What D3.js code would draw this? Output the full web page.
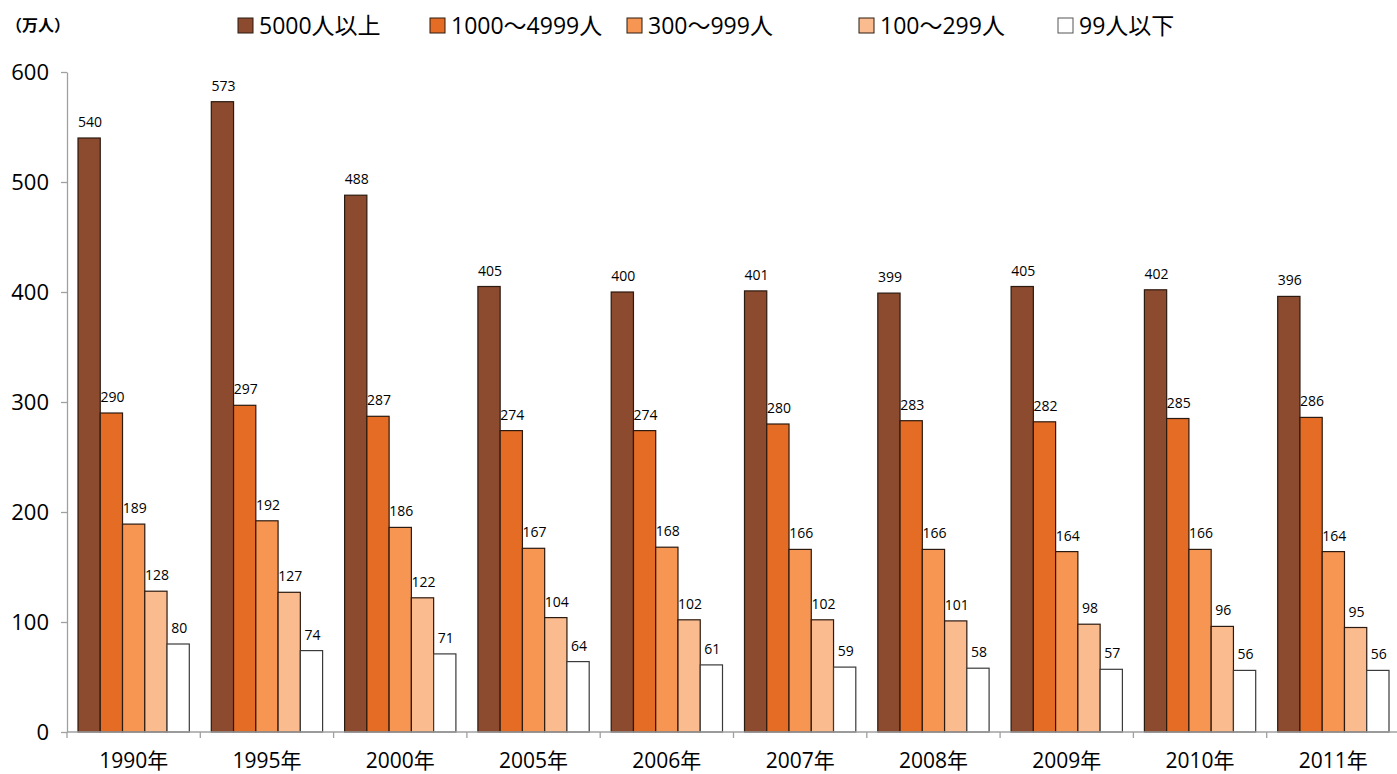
<!DOCTYPE html>
<html>
<head>
<meta charset="utf-8">
<script src="https://cdn.jsdelivr.net/npm/d3@7"></script>
<style>
  html, body { margin: 0; padding: 0; background: #fff; }
  svg { display: block; font-family: "Open Sans", "Noto Sans CJK JP", sans-serif; }
</style>
</head>
<body>
<svg id="chart" width="1397" height="774"></svg>
<script>
// Employees by company size (10,000 persons)
const years = ["1990年", "1995年", "2000年", "2005年", "2006年", "2007年", "2008年", "2009年", "2010年", "2011年"];
const seriesNames = ["5000人以上", "1000～4999人", "300～999人", "100～299人", "99人以下"];
const size5000plus = [540, 573, 488, 405, 400, 401, 399, 405, 402, 396];
const size1000to4999 = [290, 297, 287, 274, 274, 280, 283, 282, 285, 286];
const size300to999 = [189, 192, 186, 167, 168, 166, 166, 164, 166, 164];
const size100to299 = [128, 127, 122, 104, 102, 102, 101, 98, 96, 95];
const size99minus = [80, 74, 71, 64, 61, 59, 58, 57, 56, 56];
const yTicks = [0, 100, 200, 300, 400, 500, 600];

const seriesValues = [size5000plus, size1000to4999, size300to999, size100to299, size99minus];
const colors = ["#8C4A2F", "#E46C25", "#F79553", "#FABB8F", "#FFFFFF"];
const strokes = ["#2b1a10", "#2b1a10", "#2b1a10", "#2b1a10", "#3a3a3a"];

const svg = d3.select("#chart");
const margin = { left: 67, top: 72 };
const plotW = 1333, plotH = 660;

const x = d3.scaleBand().domain(years).range([margin.left, margin.left + plotW]).paddingInner(0).paddingOuter(0);
const inner = d3.scaleBand().domain(d3.range(seriesNames.length)).range([11, x.bandwidth() - 11]).padding(0);
const y = d3.scaleLinear().domain([0, 600]).range([margin.top + plotH, margin.top]);

// Y axis
const yAxis = svg.append("g").attr("transform", `translate(${margin.left},0)`)
  .call(d3.axisLeft(y).tickValues(yTicks).tickSize(6).tickSizeOuter(0).tickPadding(12));
yAxis.select(".domain").attr("stroke", "#a0a0a0").attr("stroke-width", 1.3);
yAxis.selectAll(".tick line").attr("stroke", "#a0a0a0").attr("stroke-width", 1.3);
yAxis.selectAll(".tick text").attr("font-size", 22).attr("fill", "#000")
  .attr("font-family", "'Open Sans', 'Noto Sans', sans-serif");

// Bars with value labels
years.forEach((yr, i) => {
  const g = svg.append("g").attr("transform", `translate(${x(yr)},0)`);
  seriesValues.forEach((vals, s) => {
    const v = vals[i];
    g.append("rect")
      .attr("x", inner(s))
      .attr("y", y(v))
      .attr("width", inner.bandwidth())
      .attr("height", y(0) - y(v))
      .attr("fill", colors[s])
      .attr("stroke", strokes[s])
      .attr("stroke-width", 1.2);
    g.append("text")
      .attr("x", inner(s) + inner.bandwidth() / 2 + 1)
      .attr("y", y(v) - 11)
      .attr("text-anchor", "middle")
      .attr("font-size", 14)
      .attr("font-family", "'Open Sans', 'Noto Sans', sans-serif")
      .attr("fill", "#000")
      .text(v);
  });
});

// X axis with category boundary ticks
const xAxisG = svg.append("g").attr("transform", `translate(0,${y(0)})`);
xAxisG.append("line").attr("x1", margin.left).attr("x2", margin.left + plotW)
  .attr("stroke", "#a0a0a0").attr("stroke-width", 1.3);
d3.range(years.length + 1).forEach(i => {
  const px = margin.left + i * x.bandwidth();
  xAxisG.append("line").attr("x1", px).attr("x2", px).attr("y1", 0).attr("y2", 6)
    .attr("stroke", "#a0a0a0").attr("stroke-width", 1.3);
});
xAxisG.selectAll("text.cat").data(years).enter().append("text")
  .attr("class", "cat")
  .attr("x", d => x(d) + x.bandwidth() / 2)
  .attr("y", 36)
  .attr("text-anchor", "middle")
  .attr("font-size", 21)
  .attr("fill", "#000")
  .text(d => d);

// Unit label
svg.append("text").attr("x", 6).attr("y", 31).attr("font-size", 16).attr("font-weight", "bold")
  .attr("font-family", "'Noto Sans CJK JP', sans-serif")
  .attr("fill", "#000").text("（万人）");

// Legend
const legendX = [238, 430, 627, 859, 1058];
seriesNames.forEach((name, s) => {
  const g = svg.append("g").attr("transform", `translate(${legendX[s]},18)`);
  g.append("rect").attr("x", 0).attr("y", 0).attr("width", 15).attr("height", 15)
    .attr("fill", colors[s]).attr("stroke", s === 4 ? "#555" : "#2b1a10").attr("stroke-width", 1);
  g.append("text").attr("x", 21).attr("y", 16).attr("font-size", 23).attr("fill", "#000")
    .text(name);
});
</script>
</body>
</html>
